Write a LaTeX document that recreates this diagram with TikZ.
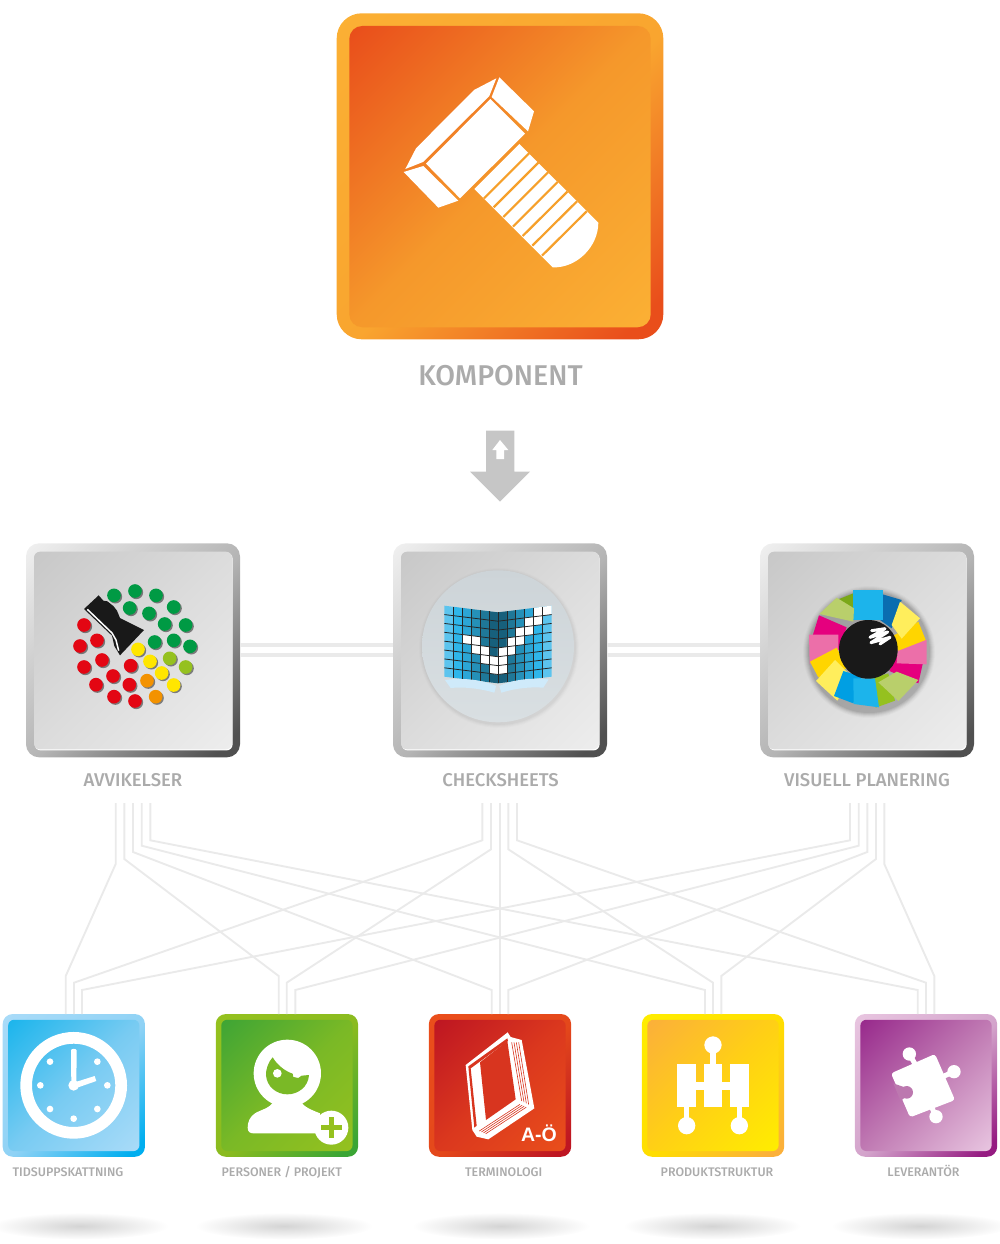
\documentclass[tikz,border=0pt]{standalone}
\usepackage{fontspec}
\setmainfont{Fira Sans}
\newfontfamily\labf{Fira Sans Medium}
\newfontfamily\aof{Liberation Sans}
\newcommand\mkin[4]{\definecolor{#1a}{HTML}{#2}\definecolor{#1m}{HTML}{#3}\definecolor{#1b}{HTML}{#4}%
 \pgfdeclareverticalshading{#1}{100bp}{color(0bp)=(#1b);color(15bp)=(#1b);color(50bp)=(#1m);color(85bp)=(#1a);color(100bp)=(#1a)}}
\newcommand\mkout[4]{\definecolor{#1a}{HTML}{#2}\definecolor{#1m}{HTML}{#3}\definecolor{#1b}{HTML}{#4}%
 \pgfdeclareverticalshading{#1}{100bp}{color(0bp)=(#1b);color(19bp)=(#1b);color(48bp)=(#1m);color(85bp)=(#1a);color(100bp)=(#1a)}}
\mkin{topI}{E94E1B}{F5982B}{FBB034}\mkout{topO}{FBB034}{F9A52F}{E94E1B}
\mkin{midI}{C8C8C8}{DCDCDC}{EDEDED}\mkout{midO}{F0F0F0}{B4B4B4}{505050}
\mkin{clkI}{1CB5EC}{78CBF2}{A9DBF8}\mkout{clkO}{A9DBF8}{8FD2F5}{00AEEF}
\mkin{perI}{3FA535}{7AB926}{95C11F}\mkout{perO}{95C11F}{8ABB1F}{3AA535}
\mkin{terI}{BE1622}{DB381E}{E94E1B}\mkout{terO}{EA4E1B}{E4481B}{BE1622}
\mkin{proI}{FBB03A}{FFD015}{FFED00}\mkout{proO}{FFED00}{FFDD00}{FBB03A}
\mkin{levI}{982A8C}{C07AB3}{E8C5E0}\mkout{levO}{E8C5E0}{D3A3CB}{951B81}
\definecolor{labgray}{HTML}{ABABAB}
\definecolor{linegray}{HTML}{EAEAEA}
\definecolor{arrowgray}{HTML}{C6C6C6}
\definecolor{boltgap}{HTML}{F6A02B}
\definecolor{disca}{HTML}{CDD4D8}
\definecolor{discb}{HTML}{D9DFE2}
\definecolor{pagelt}{HTML}{CFEAFA}
\definecolor{gdot}{HTML}{009A44}\definecolor{rdot}{HTML}{E30613}
\definecolor{ydot}{HTML}{FFE600}\definecolor{ygdot}{HTML}{95C11F}\definecolor{odot}{HTML}{F39200}
\definecolor{bk0}{HTML}{5CC4EE}\definecolor{bk1}{HTML}{2FB6EA}\definecolor{bk2}{HTML}{2CA6D6}
\definecolor{bk3}{HTML}{2590B8}\definecolor{bk4}{HTML}{1F7898}\definecolor{bk5}{HTML}{17607C}
\definecolor{ncy}{HTML}{1CB4EB}\definecolor{nbl}{HTML}{0A6DB0}\definecolor{nbc}{HTML}{009FE3}
\definecolor{ngr}{HTML}{95C11F}\definecolor{ndg}{HTML}{7AA818}\definecolor{nlg}{HTML}{B9CF6B}
\definecolor{nma}{HTML}{E5007E}\definecolor{npk}{HTML}{EC6FA9}\definecolor{nyl}{HTML}{FFD500}\definecolor{npy}{HTML}{FFEE5C}
\definecolor{bookred}{HTML}{D8351F}
\definecolor{pzn}{HTML}{BC78AF}
\tikzset{
 boxface/.style={rectangle,inner sep=0pt,outer sep=0pt,shade,shading angle=45},
 conn/.style={draw=linegray,line width=1.9pt,line join=miter},
 hconn/.style={draw=linegray,line width=4.3pt},
 biglabel/.style={text=labgray,inner sep=0pt,anchor=base,font=\labf\fontsize{28.6}{29}\selectfont},
 midlabel/.style={text=labgray,inner sep=0pt,anchor=base,font=\labf\fontsize{18.5}{18}\selectfont},
 smalllabel/.style={text=labgray,inner sep=0pt,anchor=base,font=\labf\fontsize{12.45}{12}\selectfont},
 zoomat/.style 2 args={shift={(#1,#2)},x=0.33333pt,y=-0.33333pt},
 floorshade/.style={inner color=black!17,outer color=white},
}
\newcommand\shdot[3]{\fill[black,opacity=.45] (#1+4,#2+4) circle (20.5);\fill[#3] (#1,#2) circle (20.5);}
\begin{document}
\begin{tikzpicture}[x=1pt,y=-1pt]
\useasboundingbox (0,0) rectangle (1000,1244);
% floor shadows
\foreach \cx in {80,284,501,712,920}
  \path[floorshade] (\cx,1226) ellipse (89 and 13.5);
% top box
\node[boxface,shading=topO,minimum width=326.6pt,minimum height=326pt,rounded corners=25pt] (komp) at (500,176.3) {};
\node[boxface,shading=topI,minimum width=301.4pt,minimum height=301.3pt,rounded corners=13pt] (kompin) at (500,176.6) {};
\begin{scope}[zoomat={330}{0}]
 \fill[white] (226,507)--(258,445)--(432,270)--(499,235)--(478,288)--(279,486)--cycle;
 \fill[white] (508,232)--(612,334)--(594,394)--(485,291)--cycle;
 \fill[white] (288,491)--(481,297)--(585,401)--(390,595)--cycle;
 \fill[white] (221,516)--(280,498)--(385,602)--(325,623)--cycle;
 \fill[white] (568,432)--(805,668) .. controls (805,740) and (740,805) .. (668,802)--(433,567)--cycle;
 \foreach \pa/\pb/\pc/\pd in {597/460/462/595,625/488/491/622,654/517/520/651,683/546/549/680,712/575/578/708,741/604/607/737,770/634/636/767}
   \draw[boltgap,line width=2.2pt] (\pa,\pb)--(\pc,\pd);
\end{scope}
\node[biglabel] (lkomp) at (500.5,385) {KOMPONENT};
% arrow
\fill[arrowgray] (486,430.7)--(514.3,430.7)--(514.3,471.7)--(530,471.7)--(500,501.7)--(470,471.7)--(486,471.7)--cycle;
\fill[white] (500,440)--(508.3,450)--(504,450)--(504,459)--(496.3,459)--(496.3,450)--(492.3,450)--cycle;
% middle boxes
\foreach \nm/\cx in {avv/133,chk/500,vis/867}{
 \node[boxface,shading=midO,minimum width=214pt,minimum height=214pt,rounded corners=13pt] (\nm) at (\cx,650.3) {};
 \fill[white,rounded corners=6pt] (\cx-98.3,552.6) rectangle (\cx+99.6,750.4);
 \node[boxface,shading=midI,minimum width=198pt,minimum height=197.6pt,rounded corners=6pt] (\nm in) at (\cx,650.5) {};
}
\draw[hconn] (avv.east |- 0,645.3) -- (chk.west |- 0,645.3);
\draw[hconn] (avv.east |- 0,655) -- (chk.west |- 0,655);
\draw[hconn] (chk.east |- 0,645.3) -- (vis.west |- 0,645.3);
\draw[hconn] (chk.east |- 0,655) -- (vis.west |- 0,655);
\node[midlabel] (lavv) at (133,786.4) {AVVIKELSER};
\node[midlabel] (lchk) at (500.5,786.4) {CHECKSHEETS};
\node[midlabel] (lvis) at (867,786.4) {VISUELL PLANERING};
% avvikelser icon
\begin{scope}[zoomat={20}{540}]
 \foreach \x/\y in {282/166,345/153,408/166,329/204,387/220,461/201,434/252,497/255,404/306,461/301,510/319}{\shdot{\x}{\y}{gdot}}
 \foreach \x/\y in {192/255,180/318,231/301,192/381,246/360,228/434,279/408,332/377,328/434,282/470,345/483}{\shdot{\x}{\y}{rdot}}
 \foreach \x/\y in {354/328,390/364,425/399,461/435}{\shdot{\x}{\y}{ydot}}
 \foreach \x/\y in {449/355,497/381}{\shdot{\x}{\y}{ygdot}}
 \foreach \x/\y in {381/422,407/470}{\shdot{\x}{\y}{odot}}
 \fill[black!90] (192,207)--(236,166)--(250,182)--(262,184)--(280,198)--(291,212)--(300,234)--(372,270)--(300,346)--(283,318)--(276,287)--cycle;
 \draw[white,line width=1.5pt] (202,208)--(276,279)--(288,300)--(296,332);
\end{scope}
% checksheets icon
\foreach \r/\o in {80/.012,79/.016,78/.02,77/.025}\fill[black,opacity=\o] (499,648) circle (\r);
\path[shade,top color=disca,bottom color=discb] (498,646.3) circle (76);
\begin{scope}[zoomat={390}{540}]
 \foreach \cc in {0,...,11}{
  \pgfmathtruncatemacro\kk{\cc<6?\cc:11-\cc}
  \pgfmathsetmacro\xa{163+\cc*26.83}
  \pgfmathsetmacro\xb{163+(\cc+1)*26.83}
  \pgfmathsetmacro\oa{20*(1-abs(\xa-324)/161)}
  \pgfmathsetmacro\ob{20*(1-abs(\xb-324)/161)}
  \fill[bk\kk] (\xa,197+\oa)--(\xb,197+\ob)--(\xb,410+\ob)--(\xa,410+\oa)--cycle;
 }
 \foreach \cc/\rr in {10/0,11/0,9/1,10/1,8/2,9/2,7/3,8/3,6/4,7/4,5/5,6/5,5/6,6/6,2/3,3/3,3/4,4/4,4/5,5/6}{
  \pgfmathsetmacro\xa{163+\cc*26.83}
  \pgfmathsetmacro\xb{163+(\cc+1)*26.83}
  \pgfmathsetmacro\oa{20*(1-abs(\xa-324)/161)}
  \pgfmathsetmacro\ob{20*(1-abs(\xb-324)/161)}
  \pgfmathsetmacro\ya{197+\rr*26.63}
  \pgfmathsetmacro\yb{197+(\rr+1)*26.63}
  \fill[white] (\xa,\ya+\oa)--(\xb,\ya+\ob)--(\xb,\yb+\ob)--(\xa,\yb+\oa)--cycle;
 }
 \foreach \rr in {1,...,7}{
  \pgfmathsetmacro\ya{197+\rr*26.63}
  \draw[black!85,line width=.8pt] (163,\ya)--(324,\ya+20)--(485,\ya);
 }
 \foreach \cc in {1,...,11}{
  \pgfmathsetmacro\xa{163+\cc*26.83}
  \pgfmathsetmacro\oa{20*(1-abs(\xa-324)/161)}
  \draw[black!85,line width=.8pt] (\xa,197+\oa)--(\xa,410+\oa);
 }
 \fill[pagelt] (165,420) .. controls (220,412) and (280,420) .. (318,438)--(313,458) .. controls (270,445) and (220,440) .. (182,444)--cycle;
 \fill[pagelt] (476,418) .. controls (420,412) and (365,420) .. (328,438)--(334,458) .. controls (375,445) and (420,440) .. (460,443)--cycle;
\end{scope}
% visuell planering icon
\foreach \r/\o in {66/.02,65/.03,64/.04,63/.05,62/.06,61/.07}\fill[black,opacity=\o] (869,652) circle (\r);
\begin{scope}[zoomat={755}{540}]
 \fill[ndg] (250,178)--(295,160)--(298,240)--(258,215)--cycle;
 \fill[nbl] (383,163)--(440,180)--(410,265)--(375,240)--cycle;
 \fill[ncy] (294,150)--(384,150)--(384,240)--(294,240)--cycle;
 \fill[nlg] (245,173)--(297,205)--(295,245)--(193,222)--cycle;
 \fill[nma] (192,226)--(275,262)--(252,330)--(172,290)--cycle;
 \fill[npk] (162,284)--(250,284)--(250,332)--(164,372)--cycle;
 \fill[nyl] (165,365)--(245,323)--(275,385)--(190,412)--cycle;
 \fill[npy] (183,423)--(240,360)--(290,410)--(247,482)--cycle;
 \fill[nbc] (265,393)--(320,410)--(295,490)--(237,468)--cycle;
 \fill[ngr] (333,420)--(400,400)--(420,482)--(362,503)--cycle;
 \fill[ncy] (295,415)--(360,415)--(372,502)--(296,492)--cycle;
 \fill[nma] (403,393)--(430,340)--(503,372)--(490,430)--cycle;
 \fill[nlg] (370,427)--(425,395)--(490,420)--(430,483)--cycle;
 \fill[npk] (425,370)--(430,305)--(515,300)--(515,373)--cycle;
 \fill[nyl] (410,290)--(490,245)--(512,300)--(430,332)--cycle;
 \fill[npy] (410,255)--(435,185)--(495,235)--(440,296)--cycle;
 \fill[black!90] (340,328) circle (88);
 \draw[white,line width=3pt,line cap=round,line join=round] (350,272)--(390,266)--(345,292)--(398,276)--(348,308)--(405,292)--(375,312);
\end{scope}
% bottom boxes
\node[boxface,shading=clkO,minimum width=142.3pt,minimum height=142.7pt,rounded corners=10pt] (tid) at (73.8,1085.4) {};
\node[boxface,shading=clkI,minimum width=131.3pt,minimum height=131.3pt,rounded corners=6pt] (tid in) at (73.8,1085.4) {};
\node[boxface,shading=perO,minimum width=142.3pt,minimum height=142.7pt,rounded corners=10pt] (per) at (286.9,1085.4) {};
\node[boxface,shading=perI,minimum width=131.3pt,minimum height=131.3pt,rounded corners=6pt] (per in) at (286.9,1085.4) {};
\node[boxface,shading=terO,minimum width=142.3pt,minimum height=142.7pt,rounded corners=10pt] (ter) at (500,1085.4) {};
\node[boxface,shading=terI,minimum width=131.3pt,minimum height=131.3pt,rounded corners=6pt] (ter in) at (500,1085.4) {};
\node[boxface,shading=proO,minimum width=142.3pt,minimum height=142.7pt,rounded corners=10pt] (pro) at (713,1085.4) {};
\node[boxface,shading=proI,minimum width=131.3pt,minimum height=131.3pt,rounded corners=6pt] (pro in) at (713,1085.4) {};
\node[boxface,shading=levO,minimum width=142.3pt,minimum height=142.7pt,rounded corners=10pt] (lev) at (926,1085.4) {};
\node[boxface,shading=levI,minimum width=131.3pt,minimum height=131.3pt,rounded corners=6pt] (lev in) at (926,1085.4) {};
\node[smalllabel] (ltid) at (68,1176) {TIDSUPPSKATTNING};
\node[smalllabel] (lper) at (281.7,1176) {PERSONER / PROJEKT};
\node[smalllabel] (lter) at (503.7,1176) {TERMINOLOGI};
\node[smalllabel] (lpro) at (717,1176) {PRODUKTSTRUKTUR};
\node[smalllabel] (llev) at (923.5,1176) {LEVERANTÖR};
% connectors
\foreach \n/\x in {a1/115.7,a2/124.3,a3/133,a4/141.7,a5/150.3,c1/482.3,c2/491,c3/499.7,c4/508.3,c5/517,v1/850,v2/858.7,v3/867.3,v4/876,v5/884.3}
  \coordinate (\n) at (\x,803);
\foreach \s/\sy/\tx/\ty/\tn in {
  a1/864/65.7/976/tid, a2/859/278.7/976/per, a3/852/491.7/990/ter, a4/845.7/705/990/pro, a5/840.3/917.7/990/lev,
  c1/840.3/74/982.7/tid, c2/849.3/286.7/982.7/per, c4/849.3/713/982.7/pro, c5/840.3/926/982.7/lev,
  v1/840.3/82/990/tid, v2/845.7/295.3/990/per, v3/852/508.3/990/ter, v4/859/721.3/976/pro, v5/864/934.3/976/lev}
  \draw[conn] (\s) -- (\s |- 0,\sy) -- (\tx,\ty) -- (\tx,0 |- \tn.north);
\draw[conn] (c3) -- (c3 |- ter.north);
% clock
\begin{scope}[zoomat={0}{1005}]
 \draw[white,line width=11.7pt] (221,241) circle (142.5);
 \foreach \x/\y in {150/170,292/170,121/241,322/241,150/312,292/312,221/341}\fill[white] (\x,\y) circle (10);
 \fill[white] (221,241) circle (16);
 \fill[white] (214,241)--(213,136) .. controls (214,130) and (228,130) .. (230,136)--(229,241)--cycle;
 \fill[white] (221,233)--(284,213)--(289,228)--(226,250)--cycle;
 % person
 \fill[white] (862,205) circle (101);
 \fill[white] (760,385)--(960,385)--(960,325) .. controls (935,315) and (910,305) .. (903,290)--(820,290) .. controls (810,310) and (780,315) .. (765,325) .. controls (750,335) and (743,350) .. (743,368) .. controls (743,380) and (750,385) .. (760,385)--cycle;
 \fill[perIm] (818,157) .. controls (805,170) and (797,195) .. (798,210) .. controls (800,245) and (830,268) .. (862,268) .. controls (895,268) and (925,245) .. (927,210)--(905,212)--(895,219)--(880,216)--(878,206) .. controls (860,200) and (835,185) .. (818,157)--cycle;
 \fill[white] (832,205) circle (13);
 \fill[white] (994,368) circle (51);
 \fill[perIb] (987,337) rectangle (1003,398);
 \fill[perIb] (964,360) rectangle (1026,375);
\end{scope}
% book
\begin{scope}[zoomat={420}{1005}]
 \fill[white,line join=round] (263,82)--(272,96)--(305,105)--(343,310)--(205,403)--(170,395)--(157,375)--(137,180)--cycle;
 \fill[bookred] (145,184)--(262,100)--(264,108)--(152,190)--(170,362)--(163,368)--cycle;
 \fill[bookred] (180,172)--(262,108)--(287,283)--(198,345)--cycle;
 \foreach \dd in {0,7,14,21}\draw[bookred,line width=.6pt] (275+\dd,112)--(305+\dd,288+\dd*.5);
 \foreach \dd in {0,7,14,21}\draw[bookred,line width=.6pt] (178+\dd*.9,378+\dd*.4)--(300+\dd*.9,298+\dd*.4);
 \node[text=white,inner sep=0pt,font=\aof\bfseries\fontsize{19.5}{19.5}\selectfont] (aoe) at (357,386) {A-Ö};
 % gearbox
 \fill[white] (879,120) circle (26);
 \fill[white] (871,140) rectangle (887,180);
 \fill[white] (772,178) rectangle (828,307);
 \fill[white] (851,178) rectangle (907,307);
 \fill[white] (931,178) rectangle (987,307);
 \fill[white] (828,232) rectangle (931,254);
 \fill[white] (792,307) rectangle (808,345);
 \fill[white] (951,307) rectangle (967,345);
 \fill[white] (800,362) circle (26);
 \fill[white] (958,362) circle (26);
\end{scope}
% puzzle
\begin{scope}[zoomat={840}{1005}]
 \fill[white,rounded corners=3pt] (153,205)--(285,147)--(345,285)--(210,337)--cycle;
 \fill[white] (208,147) circle (20);
 \fill[white] (342,200) circle (20);
 \fill[white] (288,335) circle (20);
 \draw[white,line width=5pt] (208,147)--(228,182);
 \draw[white,line width=5pt] (342,200)--(310,214);
 \draw[white,line width=5pt] (288,335)--(272,300);
 \fill[pzn] (200,262) circle (19);
 \fill[pzn] (160,235)--(197,248)--(205,268)--(182,288)--cycle;
\end{scope}
\end{tikzpicture}
\end{document}
